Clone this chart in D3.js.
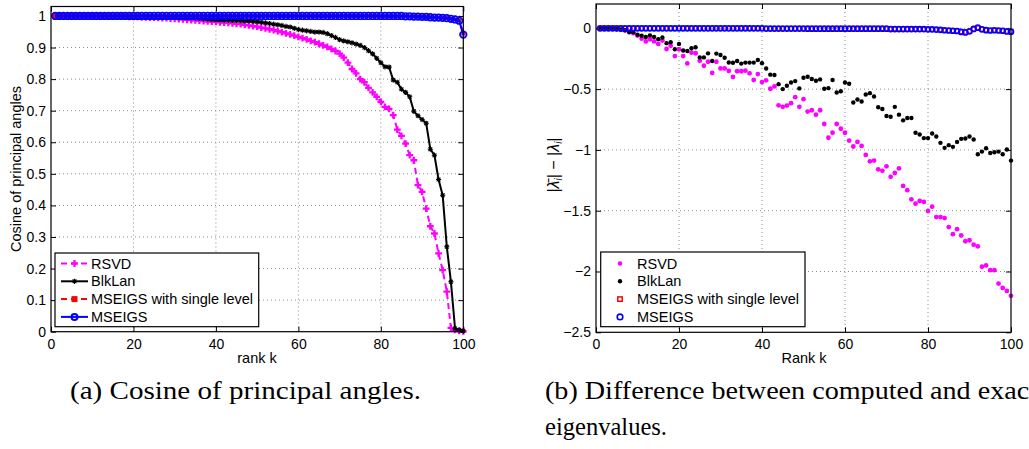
<!DOCTYPE html>
<html lang="en">
<head>
<meta charset="UTF-8">
<title>Principal angles and eigenvalue error</title>
<script src="https://d3js.org/d3.v7.min.js"></script>
<style>
body { margin: 0; background: #fff; }
svg text { font-family: "Liberation Sans", Arial, sans-serif; fill: #000; }
.tick text { font-size: 14px; }
.tick line { stroke: #000; }
.grid line { stroke: #8c8c8c; stroke-width: 1; stroke-dasharray: 1,3; }
.frame { fill: none; stroke: #000; stroke-width: 1.2; }
.legend-box { fill: #fff; stroke: #000; stroke-width: 1.2; }
.legend text { font-size: 14.5px; }
.label { font-size: 14.5px; }
.caption { font-family: "Liberation Serif", "Times New Roman", serif; font-size: 25px; }
</style>
</head>
<body>
<div id="chart"></div>
<script>
// rank k = 1..100
var ranks = d3.range(1, 101);
var seriesNames = ["RSVD", "BlkLan", "MSEIGS with single level", "MSEIGS"];

var xTicks = [0, 20, 40, 60, 80, 100];
var cosTicks = [0, 0.1, 0.2, 0.3, 0.4, 0.5, 0.6, 0.7, 0.8, 0.9, 1];
var cosTickLabels = ["0", "0.1", "0.2", "0.3", "0.4", "0.5", "0.6", "0.7", "0.8", "0.9", "1"];
var diffTicks = [0, -0.5, -1, -1.5, -2, -2.5];
var diffTickLabels = ["0", "\u22120.5", "\u22121", "\u22121.5", "\u22122", "\u22122.5"];

// (a) cosine of principal angles
var cosRSVD = [
  1.000, 1.000, 1.000, 1.000, 1.000, 1.000, 1.000, 1.000, 0.999, 0.999,
  0.999, 0.999, 0.999, 0.999, 0.998, 0.998, 0.998, 0.998, 0.997, 0.997,
  0.997, 0.996, 0.996, 0.995, 0.995, 0.994, 0.993, 0.993, 0.992, 0.991,
  0.990, 0.989, 0.988, 0.987, 0.986, 0.985, 0.984, 0.983, 0.982, 0.981,
  0.980, 0.979, 0.978, 0.977, 0.975, 0.974, 0.972, 0.970, 0.968, 0.966,
  0.963, 0.961, 0.958, 0.955, 0.952, 0.949, 0.945, 0.942, 0.938, 0.934,
  0.930, 0.926, 0.921, 0.917, 0.912, 0.907, 0.902, 0.896, 0.889, 0.881,
  0.868, 0.852, 0.832, 0.818, 0.800, 0.790, 0.772, 0.758, 0.744, 0.728,
  0.712, 0.706, 0.686, 0.640, 0.620, 0.596, 0.559, 0.543, 0.464, 0.443,
  0.390, 0.334, 0.311, 0.248, 0.195, 0.127, 0.012, 0.006, 0.003, 0.001
];
var cosBlkLan = [
  1.000, 1.000, 1.000, 1.000, 1.000, 1.000, 1.000, 1.000, 1.000, 1.000,
  1.000, 1.000, 1.000, 0.999, 0.999, 0.999, 0.999, 0.999, 0.999, 0.999,
  0.999, 0.998, 0.998, 0.998, 0.998, 0.997, 0.997, 0.997, 0.996, 0.996,
  0.995, 0.995, 0.994, 0.994, 0.993, 0.992, 0.991, 0.990, 0.989, 0.988,
  0.988, 0.987, 0.987, 0.986, 0.986, 0.985, 0.984, 0.984, 0.983, 0.982,
  0.980, 0.978, 0.976, 0.974, 0.972, 0.970, 0.967, 0.965, 0.961, 0.957,
  0.955, 0.953, 0.951, 0.949, 0.949, 0.948, 0.944, 0.938, 0.932, 0.925,
  0.921, 0.918, 0.915, 0.911, 0.907, 0.900, 0.890, 0.880, 0.866, 0.852,
  0.839, 0.838, 0.797, 0.790, 0.768, 0.758, 0.744, 0.698, 0.684, 0.672,
  0.660, 0.578, 0.559, 0.482, 0.432, 0.269, 0.158, 0.010, 0.005, 0.002
];
var cosSingle = [
  1.000, 1.000, 1.000, 1.000, 1.000, 1.000, 1.000, 1.000, 1.000, 1.000,
  1.000, 1.000, 1.000, 1.000, 1.000, 1.000, 1.000, 1.000, 1.000, 1.000,
  1.000, 1.000, 1.000, 1.000, 1.000, 1.000, 1.000, 1.000, 1.000, 1.000,
  1.000, 1.000, 1.000, 1.000, 1.000, 1.000, 1.000, 1.000, 1.000, 1.000,
  1.000, 1.000, 1.000, 1.000, 1.000, 1.000, 1.000, 1.000, 1.000, 1.000,
  1.000, 1.000, 1.000, 1.000, 1.000, 1.000, 1.000, 1.000, 1.000, 1.000,
  1.000, 1.000, 1.000, 1.000, 1.000, 1.000, 1.000, 1.000, 1.000, 1.000,
  1.000, 1.000, 1.000, 1.000, 1.000, 1.000, 1.000, 1.000, 1.000, 0.999,
  0.999, 0.999, 0.999, 0.999, 0.999, 0.999, 0.998, 0.998, 0.998, 0.997,
  0.997, 0.996, 0.995, 0.995, 0.994, 0.993, 0.991, 0.989, 0.986, 0.944
];
var cosMSEIGS = [
  1.000, 1.000, 1.000, 1.000, 1.000, 1.000, 1.000, 1.000, 1.000, 1.000,
  1.000, 1.000, 1.000, 1.000, 1.000, 1.000, 1.000, 1.000, 1.000, 1.000,
  1.000, 1.000, 1.000, 1.000, 1.000, 1.000, 1.000, 1.000, 1.000, 1.000,
  1.000, 1.000, 1.000, 1.000, 1.000, 1.000, 1.000, 1.000, 1.000, 1.000,
  1.000, 1.000, 1.000, 1.000, 1.000, 1.000, 1.000, 1.000, 1.000, 1.000,
  1.000, 1.000, 1.000, 1.000, 1.000, 1.000, 1.000, 1.000, 1.000, 1.000,
  1.000, 1.000, 1.000, 1.000, 1.000, 1.000, 1.000, 1.000, 1.000, 1.000,
  1.000, 1.000, 1.000, 1.000, 1.000, 1.000, 1.000, 1.000, 1.000, 1.000,
  1.000, 1.000, 1.000, 1.000, 1.000, 0.999, 0.999, 0.998, 0.998, 0.997,
  0.997, 0.996, 0.995, 0.995, 0.994, 0.993, 0.991, 0.989, 0.985, 0.941
];

// (b) |computed| - |exact| eigenvalues
var diffRSVD = [
  0.000, 0.000, -0.002, -0.004, -0.008, -0.012, -0.018, -0.025, -0.040, -0.060,
  -0.085, -0.108, -0.090, -0.108, -0.128, -0.100, -0.170, -0.144, -0.228, -0.172,
  -0.228, -0.289, -0.200, -0.205, -0.267, -0.308, -0.275, -0.367, -0.275, -0.330,
  -0.330, -0.350, -0.400, -0.353, -0.353, -0.348, -0.370, -0.425, -0.376, -0.442,
  -0.428, -0.497, -0.478, -0.633, -0.646, -0.635, -0.616, -0.566, -0.646, -0.583,
  -0.685, -0.674, -0.710, -0.674, -0.787, -0.900, -0.859, -0.787, -0.826, -0.859,
  -0.923, -0.972, -0.934, -0.967, -1.041, -1.094, -1.088, -1.160, -1.172, -1.135,
  -1.221, -1.190, -1.152, -1.296, -1.331, -1.406, -1.442, -1.420, -1.428, -1.503,
  -1.467, -1.552, -1.552, -1.561, -1.635, -1.693, -1.652, -1.704, -1.751, -1.743,
  -1.779, -1.793, -1.961, -1.950, -1.989, -1.989, -2.099, -2.135, -2.160, -2.200
];
var diffBlkLan = [
  0.000, 0.000, -0.002, -0.004, -0.006, -0.010, -0.015, -0.033, -0.033, -0.053,
  -0.061, -0.072, -0.058, -0.072, -0.089, -0.075, -0.122, -0.114, -0.172, -0.128,
  -0.183, -0.186, -0.164, -0.156, -0.239, -0.239, -0.206, -0.269, -0.208, -0.219,
  -0.242, -0.281, -0.283, -0.269, -0.290, -0.282, -0.282, -0.282, -0.260, -0.287,
  -0.331, -0.381, -0.384, -0.459, -0.500, -0.472, -0.445, -0.434, -0.494, -0.406,
  -0.398, -0.417, -0.431, -0.420, -0.497, -0.492, -0.425, -0.528, -0.517, -0.445,
  -0.456, -0.610, -0.586, -0.602, -0.544, -0.533, -0.561, -0.649, -0.663, -0.721,
  -0.727, -0.646, -0.710, -0.757, -0.738, -0.738, -0.859, -0.873, -0.903, -0.903,
  -0.865, -0.890, -0.942, -0.983, -0.961, -0.975, -0.934, -0.909, -0.906, -0.890,
  -0.914, -1.036, -1.014, -0.986, -1.025, -1.019, -1.014, -1.036, -0.997, -1.088
];
var diffSingle = [
  0.000, 0.000, 0.000, 0.000, 0.000, 0.000, 0.000, 0.000, 0.000, 0.000,
  0.000, 0.000, 0.000, 0.000, 0.000, 0.000, 0.000, 0.000, 0.000, 0.000,
  0.000, 0.000, 0.000, 0.000, 0.000, 0.000, 0.000, 0.000, 0.000, 0.000,
  0.000, 0.000, 0.000, 0.000, 0.000, 0.000, 0.000, 0.000, 0.000, 0.000,
  -0.002, -0.002, -0.002, -0.002, -0.002, -0.002, -0.002, -0.002, -0.002, -0.002,
  -0.003, -0.003, -0.003, -0.003, -0.003, -0.003, -0.003, -0.003, -0.003, -0.003,
  -0.003, -0.003, -0.003, -0.003, -0.003, -0.003, -0.003, -0.003, -0.003, -0.003,
  -0.005, -0.005, -0.005, -0.006, -0.006, -0.006, -0.006, -0.007, -0.007, -0.008,
  -0.008, -0.009, -0.012, -0.016, -0.018, -0.020, -0.022, -0.028, -0.032, -0.024,
  -0.006, 0.004, -0.008, -0.014, -0.017, -0.016, -0.018, -0.020, -0.025, -0.027
];
var diffMSEIGS = [
  0.000, 0.000, 0.000, 0.000, 0.000, 0.000, 0.000, 0.000, 0.000, 0.000,
  0.000, 0.000, 0.000, 0.000, 0.000, 0.000, 0.000, 0.000, 0.000, 0.000,
  0.000, 0.000, 0.000, 0.000, 0.000, 0.000, 0.000, 0.000, 0.000, 0.000,
  0.000, 0.000, 0.000, 0.000, 0.000, 0.000, 0.000, 0.000, 0.000, 0.000,
  -0.002, -0.002, -0.002, -0.002, -0.002, -0.002, -0.002, -0.002, -0.002, -0.002,
  -0.003, -0.003, -0.003, -0.003, -0.003, -0.003, -0.003, -0.003, -0.003, -0.003,
  -0.003, -0.003, -0.003, -0.003, -0.003, -0.003, -0.003, -0.003, -0.003, -0.003,
  -0.006, -0.006, -0.006, -0.006, -0.006, -0.006, -0.006, -0.006, -0.006, -0.008,
  -0.008, -0.010, -0.012, -0.016, -0.018, -0.020, -0.022, -0.030, -0.034, -0.025,
  -0.005, 0.005, -0.008, -0.015, -0.018, -0.016, -0.018, -0.020, -0.026, -0.028
];

var W = 1029, H = 449;
var svg = d3.select("#chart").append("svg")
    .attr("width", W)
    .attr("height", H);
svg.append("rect").attr("width", W).attr("height", H).attr("fill", "#fff");

function plusPath(r) {
  return "M" + (-r) + ",0H" + r + "M0," + (-r) + "V" + r;
}
function starPath(r) {
  var d = r * 0.72;
  return plusPath(r) + "M" + (-d) + "," + (-d) + "L" + d + "," + d +
         "M" + (-d) + "," + d + "L" + d + "," + (-d);
}

// frame, grid and inward ticks, matlab style
function drawAxes(g, x, y, yTicks, yLabels) {
  var x0 = x.range()[0], x1 = x.range()[1];
  var yb = y.range()[0], yt = y.range()[1];

  var grid = g.append("g").attr("class", "grid");
  grid.selectAll(".gx").data(xTicks.filter(function(d) { return d > 0 && d < 100; }))
    .enter().append("line")
      .attr("x1", function(d) { return x(d); }).attr("x2", function(d) { return x(d); })
      .attr("y1", yt).attr("y2", yb);
  grid.selectAll(".gy").data(yTicks.filter(function(d) { return y(d) > yt + 1 && y(d) < yb - 1; }))
    .enter().append("line")
      .attr("y1", function(d) { return y(d); }).attr("y2", function(d) { return y(d); })
      .attr("x1", x0).attr("x2", x1);

  var bottom = d3.axisBottom(x).tickValues(xTicks).tickSizeInner(-5).tickSizeOuter(0).tickPadding(7);
  var left = d3.axisLeft(y).tickValues(yTicks).tickSizeInner(-5).tickSizeOuter(0).tickPadding(5)
      .tickFormat(function(d, i) { return yLabels[i]; });
  var top = d3.axisTop(x).tickValues(xTicks).tickSizeInner(-5).tickSizeOuter(0).tickFormat("");
  var right = d3.axisRight(y).tickValues(yTicks).tickSizeInner(-5).tickSizeOuter(0).tickFormat("");

  g.append("g").attr("transform", "translate(0," + yb + ")").call(bottom)
    .call(function(s) { s.select(".domain").remove(); });
  g.append("g").attr("transform", "translate(" + x0 + ",0)").call(left)
    .call(function(s) { s.select(".domain").remove(); });
  g.append("g").attr("transform", "translate(0," + yt + ")").call(top)
    .call(function(s) { s.select(".domain").remove(); });
  g.append("g").attr("transform", "translate(" + x1 + ",0)").call(right)
    .call(function(s) { s.select(".domain").remove(); });

  g.selectAll(".tick text").attr("font-family", null).attr("font-size", null).attr("fill", "#000");
  g.selectAll(".tick line").attr("stroke-width", 1);
}

// ---------- (a) ----------
var xa = d3.scaleLinear().domain([0, 100]).range([51, 463.3]);
var ya = d3.scaleLinear().domain([0, 1.03]).range([331.7, 6.5]);
var ga = svg.append("g");
drawAxes(ga, xa, ya, cosTicks, cosTickLabels);

function pts(vals) { return ranks.map(function(k, i) { return [k, vals[i]]; }); }
var lineA = d3.line().x(function(d) { return xa(d[0]); }).y(function(d) { return ya(d[1]); });

// RSVD
ga.append("path").datum(pts(cosRSVD)).attr("d", lineA)
  .attr("fill", "none").attr("stroke", "#ff00ff").attr("stroke-width", 2).attr("stroke-dasharray", "6,4");
ga.append("g").selectAll("path").data(pts(cosRSVD)).enter().append("path")
  .attr("transform", function(d) { return "translate(" + xa(d[0]) + "," + ya(d[1]) + ")"; })
  .attr("d", plusPath(3.4)).attr("stroke", "#ff00ff").attr("stroke-width", 2.3);
// BlkLan
ga.append("path").datum(pts(cosBlkLan)).attr("d", lineA)
  .attr("fill", "none").attr("stroke", "#000").attr("stroke-width", 2);
ga.append("g").selectAll("path").data(pts(cosBlkLan)).enter().append("path")
  .attr("transform", function(d) { return "translate(" + xa(d[0]) + "," + ya(d[1]) + ")"; })
  .attr("d", starPath(2.6)).attr("stroke", "#000").attr("stroke-width", 1.1);
// MSEIGS single level
ga.append("path").datum(pts(cosSingle)).attr("d", lineA)
  .attr("fill", "none").attr("stroke", "#ff0000").attr("stroke-width", 2).attr("stroke-dasharray", "6,4");
ga.append("g").selectAll("rect").data(pts(cosSingle)).enter().append("rect")
  .attr("x", function(d) { return xa(d[0]) - 2; }).attr("y", function(d) { return ya(d[1]) - 2; })
  .attr("width", 4).attr("height", 4).attr("fill", "#ff0000");
// MSEIGS
ga.append("path").datum(pts(cosMSEIGS)).attr("d", lineA)
  .attr("fill", "none").attr("stroke", "#0000ff").attr("stroke-width", 2);
ga.append("g").selectAll("circle").data(pts(cosMSEIGS)).enter().append("circle")
  .attr("cx", function(d) { return xa(d[0]); }).attr("cy", function(d) { return ya(d[1]); })
  .attr("r", 3.3).attr("fill", "none").attr("stroke", "#0000ff").attr("stroke-width", 1.7);

ga.append("rect").attr("class", "frame")
  .attr("x", 51).attr("y", 6.5).attr("width", 463.3 - 51).attr("height", 331.7 - 6.5);

// legend (a)
var legA = ga.append("g").attr("class", "legend");
legA.append("rect").attr("class", "legend-box").attr("x", 55).attr("y", 253).attr("width", 203.7).attr("height", 73.7);
var legRowsA = legA.selectAll(".row").data(seriesNames).enter().append("g")
  .attr("transform", function(d, i) { return "translate(0," + (263.5 + i * 17.8) + ")"; });
legRowsA.append("line").attr("x1", 61).attr("x2", 88).attr("y1", 0).attr("y2", 0)
  .attr("stroke", function(d, i) { return ["#ff00ff", "#000", "#ff0000", "#0000ff"][i]; })
  .attr("stroke-width", 2)
  .attr("stroke-dasharray", function(d, i) { return (i === 0 || i === 2) ? "6,4" : null; });
legRowsA.append("text").attr("x", 91).attr("y", 5).text(function(d) { return d; });
legRowsA.filter(function(d, i) { return i === 0; }).append("path")
  .attr("transform", "translate(74.5,0)").attr("d", plusPath(3.4)).attr("stroke", "#ff00ff").attr("stroke-width", 2.3);
legRowsA.filter(function(d, i) { return i === 1; }).append("path")
  .attr("transform", "translate(74.5,0)").attr("d", starPath(2.6)).attr("stroke", "#000").attr("stroke-width", 1.1);
legRowsA.filter(function(d, i) { return i === 2; }).append("rect")
  .attr("x", 71.5).attr("y", -3).attr("width", 6).attr("height", 6).attr("fill", "#ff0000");
legRowsA.filter(function(d, i) { return i === 3; }).append("circle")
  .attr("cx", 74.5).attr("cy", 0).attr("r", 3).attr("fill", "none").attr("stroke", "#0000ff").attr("stroke-width", 2);

ga.append("text").attr("class", "label").attr("x", 257).attr("y", 363)
  .attr("text-anchor", "middle").text("rank k");
ga.append("text").attr("class", "label").attr("text-anchor", "middle")
  .attr("transform", "translate(21,169) rotate(-90)").text("Cosine of principal angles");

// ---------- (b) ----------
var xb = d3.scaleLinear().domain([0, 100]).range([596, 1011]);
var yb = d3.scaleLinear().domain([-2.5, 0.2]).range([332.3, 4]);
var gb = svg.append("g");
drawAxes(gb, xb, yb, diffTicks, diffTickLabels);

function dots(g, vals, color, r) {
  g.append("g").selectAll("circle").data(pts(vals)).enter().append("circle")
    .attr("cx", function(d) { return xb(d[0]); }).attr("cy", function(d) { return yb(d[1]); })
    .attr("r", r).attr("fill", color);
}
dots(gb, diffRSVD, "#ff00ff", 2.4);
dots(gb, diffBlkLan, "#000", 2.2);
gb.append("g").selectAll("rect").data(pts(diffSingle)).enter().append("rect")
  .attr("x", function(d) { return xb(d[0]) - 1.8; }).attr("y", function(d) { return yb(d[1]) - 1.8; })
  .attr("width", 3.6).attr("height", 3.6).attr("fill", "none").attr("stroke", "#ff0000").attr("stroke-width", 1.2);
gb.append("g").selectAll("circle").data(pts(diffMSEIGS)).enter().append("circle")
  .attr("cx", function(d) { return xb(d[0]); }).attr("cy", function(d) { return yb(d[1]); })
  .attr("r", 2.6).attr("fill", "none").attr("stroke", "#0000ff").attr("stroke-width", 1.5);

gb.append("rect").attr("class", "frame")
  .attr("x", 596).attr("y", 4).attr("width", 1011 - 596).attr("height", 332.3 - 4);

// legend (b)
var legB = gb.append("g").attr("class", "legend");
legB.append("rect").attr("class", "legend-box").attr("x", 600.7).attr("y", 252).attr("width", 204.3).attr("height", 74.7);
var legRowsB = legB.selectAll(".row").data(seriesNames).enter().append("g")
  .attr("transform", function(d, i) { return "translate(0," + (263.5 + i * 17.8) + ")"; });
legRowsB.append("text").attr("x", 637).attr("y", 5).text(function(d) { return d; });
legRowsB.filter(function(d, i) { return i === 0; }).append("circle")
  .attr("cx", 620).attr("cy", 0).attr("r", 2.3).attr("fill", "#ff00ff");
legRowsB.filter(function(d, i) { return i === 1; }).append("circle")
  .attr("cx", 620).attr("cy", 0).attr("r", 2.2).attr("fill", "#000");
legRowsB.filter(function(d, i) { return i === 2; }).append("rect")
  .attr("x", 617.8).attr("y", -2.2).attr("width", 4.4).attr("height", 4.4)
  .attr("fill", "none").attr("stroke", "#ff0000").attr("stroke-width", 1.5);
legRowsB.filter(function(d, i) { return i === 3; }).append("circle")
  .attr("cx", 620).attr("cy", 0).attr("r", 2.8).attr("fill", "none").attr("stroke", "#0000ff").attr("stroke-width", 1.6);

gb.append("text").attr("class", "label").attr("x", 804).attr("y", 363)
  .attr("text-anchor", "middle").text("Rank k");

var yl = gb.append("text").attr("text-anchor", "middle")
  .attr("fill", "#333").style("font-size", "16px")
  .attr("transform", "translate(559,165) rotate(-90)");
yl.append("tspan").text("|");
yl.append("tspan").attr("font-style", "italic").text("\u03bb\u0304");
yl.append("tspan").attr("dy", 3).style("font-size", "10px").attr("font-style", "italic").text("i");
yl.append("tspan").attr("dy", -3).text("| \u2212 |");
yl.append("tspan").attr("font-style", "italic").text("\u03bb");
yl.append("tspan").attr("dy", 3).style("font-size", "10px").attr("font-style", "italic").text("i");
yl.append("tspan").attr("dy", -3).text("|");

// captions
svg.append("text").attr("class", "caption").attr("x", 70).attr("y", 399)
  .attr("textLength", 351).attr("lengthAdjust", "spacingAndGlyphs")
  .text("(a) Cosine of principal angles.");
svg.append("text").attr("class", "caption").attr("x", 545).attr("y", 399)
  .attr("textLength", 492).attr("lengthAdjust", "spacingAndGlyphs")
  .text("(b) Difference between computed and exact");
svg.append("text").attr("class", "caption").attr("x", 545).attr("y", 435)
  .attr("textLength", 122).attr("lengthAdjust", "spacingAndGlyphs")
  .text("eigenvalues.");
</script>
</body>
</html>
